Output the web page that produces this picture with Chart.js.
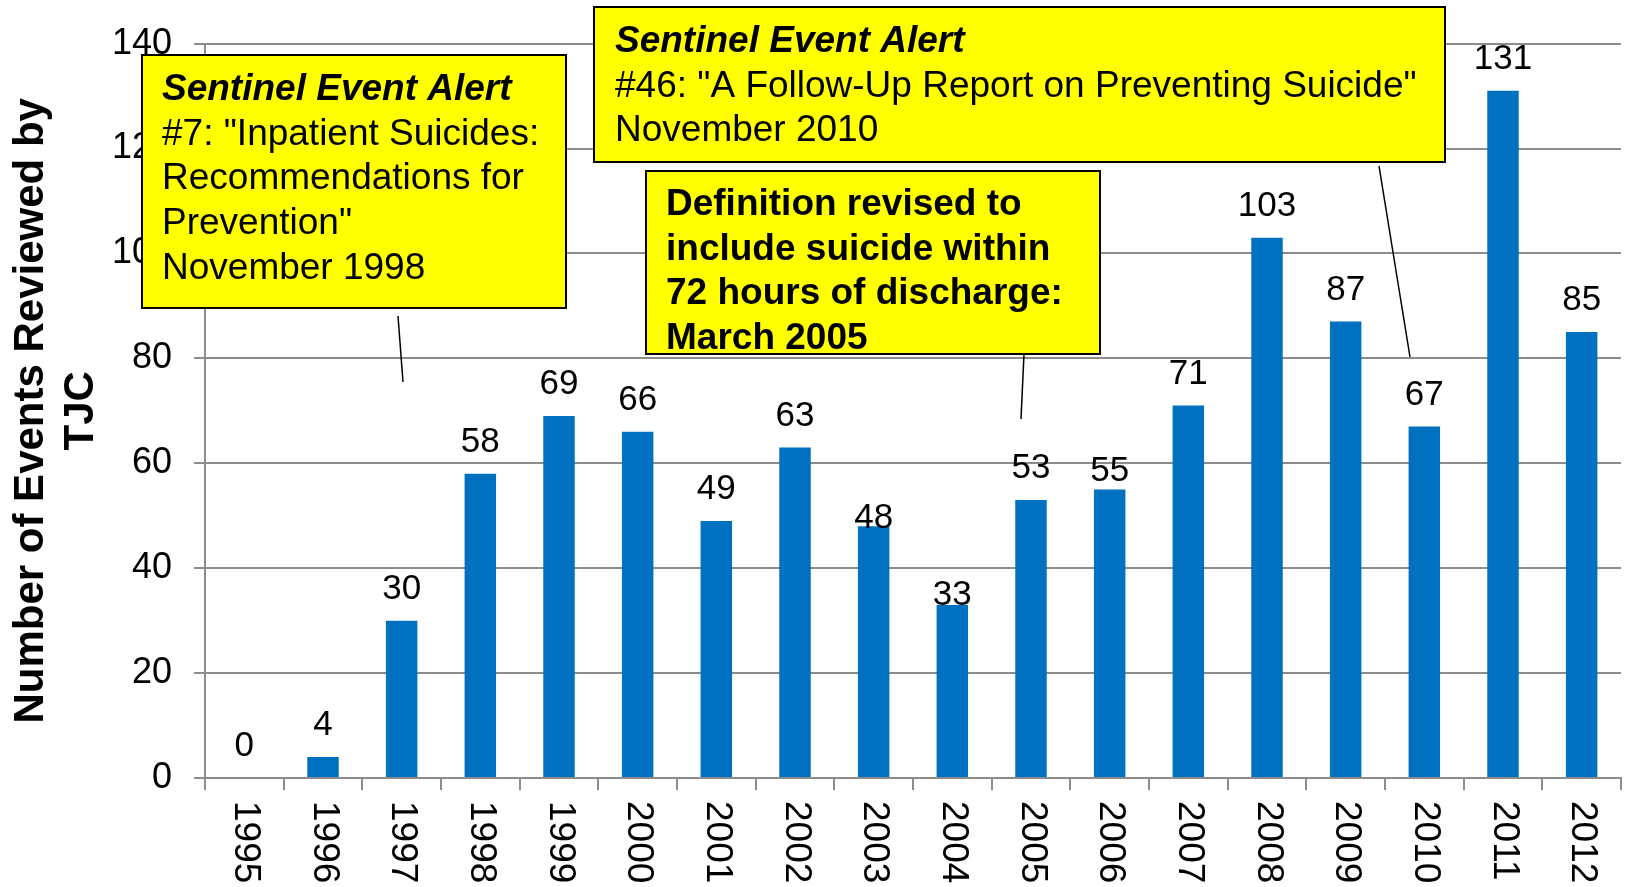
<!DOCTYPE html>
<html>
<head>
<meta charset="utf-8">
<script src="https://cdn.jsdelivr.net/npm/chart.js@4/dist/chart.umd.min.js"></script>
<style>
  html, body { margin: 0; padding: 0; background: #fff; }
  #wrap { width: 1626px; height: 887px; position: relative; }
</style>
</head>
<body>
<div id="wrap"><canvas id="c" width="1626" height="887"></canvas></div>
<script>
var years = ["1995", "1996", "1997", "1998", "1999", "2000", "2001", "2002", "2003",
  "2004", "2005", "2006", "2007", "2008", "2009", "2010", "2011", "2012"];
var events = [0, 4, 30, 58, 69, 66, 49, 63, 48, 33, 53, 55, 71, 103, 87, 67, 131, 85];
var yTicks = [0, 20, 40, 60, 80, 100, 120, 140];
var yTitle = ["Number of Events Reviewed by", "TJC"];

var notes = [
  { lines: ["Sentinel Event Alert", "#7: \"Inpatient Suicides:", "Recommendations for", "Prevention\"", "November 1998"],
    firstItalic: true, bold: false },
  { lines: ["Sentinel Event Alert", "#46: \"A Follow-Up Report on Preventing Suicide\"", "November 2010"],
    firstItalic: true, bold: false },
  { lines: ["Definition revised to", "include suicide within", "72 hours of discharge:", "March 2005"],
    firstItalic: false, bold: true }
];

var FONT = "'Liberation Sans', Arial, sans-serif";

// value labels above bars + rotated year labels
var labelsPlugin = {
  id: "labels",
  afterDatasetsDraw: function (chart) {
    var ctx = chart.ctx;
    var meta = chart.getDatasetMeta(0);
    var shift = { 8: 24, 9: 22, 11: 14 };
    ctx.save();
    ctx.fillStyle = "#000";
    ctx.font = "35px " + FONT;
    ctx.textAlign = "center";
    ctx.textBaseline = "alphabetic";
    meta.data.forEach(function (bar, i) {
      ctx.fillText(String(events[i]), bar.x, bar.y - 22 + (shift[i] || 0));
    });
    var xs = chart.scales.x;
    ctx.font = "37px " + FONT;
    ctx.textAlign = "left";
    ctx.textBaseline = "middle";
    years.forEach(function (y, i) {
      var px = xs.getPixelForValue(i);
      ctx.save();
      ctx.translate(px + 1, chart.chartArea.bottom + 23);
      ctx.rotate(Math.PI / 2);
      ctx.fillText(y, 0, 0);
      ctx.restore();
    });
    ctx.restore();
  }
};

// callout boxes
var notesPlugin = {
  id: "notes",
  afterDraw: function (chart) {
    var ctx = chart.ctx;
    var boxes = [
      { x: 142, y: 55, w: 424, h: 253, tx: 162, ty: 90, lh: 44.6, line: [398, 316, 403, 382] },
      { x: 594, y: 7, w: 851, h: 155, tx: 615, ty: 42, lh: 44.6, line: [1379, 166, 1410, 357] },
      { x: 646, y: 171, w: 454, h: 183, tx: 666, ty: 205, lh: 44.6, line: [1024, 354, 1021, 419] }
    ];
    ctx.save();
    boxes.forEach(function (b, k) {
      var n = notes[k];
      ctx.strokeStyle = "#000";
      ctx.lineWidth = 1.5;
      ctx.beginPath();
      ctx.moveTo(b.line[0], b.line[1]);
      ctx.lineTo(b.line[2], b.line[3]);
      ctx.stroke();
      ctx.fillStyle = "#FFFF00";
      ctx.fillRect(b.x, b.y, b.w, b.h);
      ctx.lineWidth = 2;
      ctx.strokeRect(b.x, b.y, b.w, b.h);
      ctx.fillStyle = "#000";
      ctx.textAlign = "left";
      ctx.textBaseline = "middle";
      n.lines.forEach(function (t, j) {
        var f = "37px " + FONT;
        if (n.bold) f = "bold " + f;
        if (j === 0 && n.firstItalic) f = "italic bold 37px " + FONT;
        ctx.font = f;
        ctx.fillText(t, b.tx, b.ty + j * b.lh);
      });
    });
    ctx.restore();
  }
};

var chart = new Chart(document.getElementById("c"), {
  type: "bar",
  data: {
    labels: years,
    datasets: [{
      data: events,
      backgroundColor: "#0070C0",
      barPercentage: 0.4,
      categoryPercentage: 1.0
    }]
  },
  options: {
    responsive: false,
    animation: false,
    layout: { padding: { top: 0, right: 5, left: 0, bottom: 0 } },
    plugins: { legend: { display: false }, tooltip: { enabled: false } },
    scales: {
      x: {
        grid: { drawOnChartArea: false, drawTicks: true, tickLength: 12, color: "#8c8c8c", lineWidth: 2 },
        border: { color: "#8c8c8c", width: 2 },
        ticks: { display: false },
        afterFit: function (s) { s.height = 109; }
      },
      y: {
        min: 0,
        max: 140,
        afterBuildTicks: function (s) { s.ticks = yTicks.map(function (v) { return { value: v }; }); },
        grid: { color: "#8c8c8c", lineWidth: 2, tickLength: 11 },
        border: { color: "#8c8c8c", width: 2 },
        ticks: { color: "#000", font: { family: FONT, size: 36 }, padding: 22 },
        title: {
          display: true,
          text: yTitle,
          color: "#000",
          font: { family: FONT, size: 42, weight: "bold", lineHeight: 1.19 },
          padding: { top: 6, bottom: 0 }
        },
        afterFit: function (s) { s.width = 205; }
      }
    }
  },
  plugins: [labelsPlugin, notesPlugin]
});
</script>
</body>
</html>
